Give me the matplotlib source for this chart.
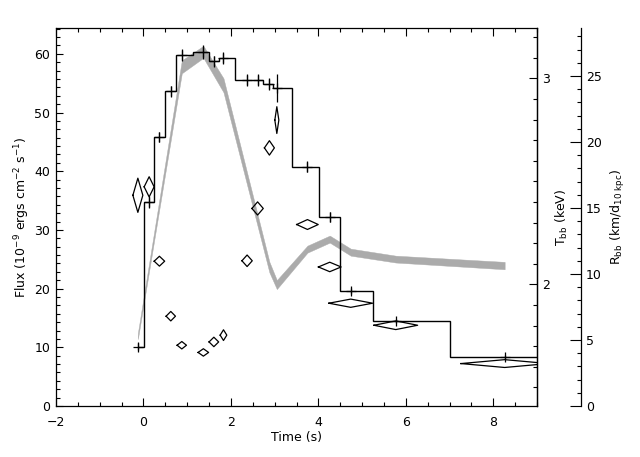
import numpy as np
import matplotlib
matplotlib.use("Agg")
import matplotlib.pyplot as plt
from matplotlib.ticker import MultipleLocator, FixedLocator

plt.rcParams['font.family'] = 'DejaVu Sans'
plt.rcParams['font.size'] = 9
plt.rcParams['mathtext.default'] = 'regular'

# time of each spectrum (s)
t = [-0.128, 0.13, 0.365, 0.625, 0.877, 1.37, 1.61, 1.83, 2.37, 2.61,
     2.88, 3.05, 3.75, 4.26, 4.74, 5.77, 8.26]
# bolometric flux (1e-9 erg/cm2/s)
flux = [10.1, 34.7, 45.9, 53.6, 59.8, 60.3, 58.7, 59.3, 55.5, 55.5,
        54.9, 54.2, 40.8, 32.2, 19.6, 14.5, 8.3]
flux_err = [0.6, 1.0, 0.85, 1.0, 1.1, 1.2, 1.0, 1.0, 1.0, 1.0,
            1.0, 2.4, 0.9, 0.9, 0.5, 0.35, 0.35]
# blackbody temperature (keV) and bin half widths
kT = [2.433, 2.474, 2.113, 1.846, 1.705, 1.670, 1.721, 1.754, 2.115, 2.369,
      2.663, 2.798, 2.291, 2.085, 1.909, 1.802, 1.616]
kT_err = [0.083, 0.049, 0.024, 0.023, 0.018, 0.018, 0.023, 0.026, 0.028, 0.032,
          0.035, 0.065, 0.024, 0.023, 0.020, 0.021, 0.019]
t_half = [0.114, 0.114, 0.12, 0.107, 0.107, 0.12, 0.11, 0.076, 0.118, 0.13,
          0.114, 0.046, 0.247, 0.26, 0.5, 0.5, 1.0]
# blackbody radius band (km / d_10kpc)
r_time = [-0.128, 0.877, 1.37, 1.83, 2.88, 3.05, 3.75, 4.26, 4.74, 5.77, 8.26]
r_low = [5.07, 25.21, 26.38, 23.77, 10.12, 8.86, 11.62, 12.38, 11.39, 10.87, 10.36]
r_high = [5.53, 26.19, 27.29, 24.83, 10.92, 9.54, 12.15, 12.91, 11.92, 11.39, 10.92]

XMIN, XMAX = -2, 9

fig = plt.figure(figsize=(6.4, 4.57), dpi=100)
ax = fig.add_axes([0.0875, 0.1116, 0.7516, 0.8271])
ax_r = ax.twinx()
ax_t = ax.twinx()
ax_r.set_zorder(1)
ax_t.set_zorder(2)
ax.set_zorder(3)
ax.patch.set_visible(False)

# radius band
ax_r.fill_between(r_time, r_low, r_high, color='#ababab', lw=0.3, edgecolor='#ababab')
ax_r.set_ylim(0, 28.64)

# flux histogram (steps between spectra) with error crosses
tt = np.array(t)
edges = np.concatenate([[tt[0]], (tt[1:] + tt[:-1]) / 2, [XMAX + 1]])
ax.stairs(flux, edges, baseline=None, color='k', lw=1)
ax.errorbar(t, flux, yerr=flux_err, fmt='+', color='k', ms=7, mew=0.9,
            elinewidth=0.9, capsize=0)

# temperature diamonds
for ti, ki, dx, dk in zip(t, kT, t_half, kT_err):
    ax_t.plot([ti - dx, ti, ti + dx, ti, ti - dx],
              [ki, ki + dk, ki, ki - dk, ki], color='k', lw=0.9)
ax_t.set_ylim(1.41, 3.245)

ax.set_xlim(XMIN, XMAX)
ax.set_ylim(0, 64.4)
for a in (ax_r, ax_t):
    a.set_xlim(XMIN, XMAX)

# main axis ticks
ax.xaxis.set_major_locator(MultipleLocator(2))
ax.xaxis.set_minor_locator(MultipleLocator(0.5))
ax.yaxis.set_major_locator(MultipleLocator(10))
ax.yaxis.set_minor_locator(MultipleLocator(10 / 7))
ax.tick_params(axis='x', which='both', direction='in', top=True, bottom=True, pad=7)
ax.tick_params(axis='x', which='major', length=5.8, width=0.8)
ax.tick_params(axis='x', which='minor', length=2.9, width=0.8)
ax.tick_params(axis='y', which='both', direction='in', left=True, right=False, pad=4)
ax.tick_params(axis='y', which='major', length=5, width=0.8)
ax.tick_params(axis='y', which='minor', length=2.9, width=0.8)
for s in ax.spines.values():
    s.set_linewidth(0.9)

# temperature axis on the right frame
for name in ('left', 'top', 'bottom'):
    ax_t.spines[name].set_visible(False)
ax_t.spines['right'].set_linewidth(0.9)
ax_t.yaxis.set_major_locator(FixedLocator([2, 3]))
ax_t.yaxis.set_minor_locator(MultipleLocator(0.1))
ax_t.tick_params(axis='y', which='both', direction='in', pad=3.5)
ax_t.tick_params(axis='y', which='major', length=5.5, width=0.8)
ax_t.tick_params(axis='y', which='minor', length=3.2, width=0.8)
ax_t.set_ylabel('T$_{bb}$ (keV)', labelpad=3)

# radius axis detached to the right
for name in ('left', 'top', 'bottom'):
    ax_r.spines[name].set_visible(False)
ax_r.spines['right'].set_position(('axes', 1.0915))
ax_r.spines['right'].set_linewidth(0.9)
ax_r.yaxis.set_major_locator(MultipleLocator(5))
ax_r.yaxis.set_minor_locator(MultipleLocator(1))
ax_r.tick_params(axis='y', which='both', direction='in', pad=3.5)
ax_r.tick_params(axis='y', which='major', length=7.9, width=0.8)
ax_r.tick_params(axis='y', which='minor', length=3.1, width=0.8)
ax_r.set_ylabel('R$_{bb}$ (km/d$_{10\\ kpc}$)', labelpad=5)
for a in (ax_r, ax_t):
    a.tick_params(axis='x', which='both', bottom=False, top=False,
                  labelbottom=False)

ax.set_xlabel('Time (s)', labelpad=2)
ax.set_ylabel('Flux (10$^{-9}$ ergs cm$^{-2}$ s$^{-1}$)', labelpad=2)

fig.savefig('out.png', dpi=100)
